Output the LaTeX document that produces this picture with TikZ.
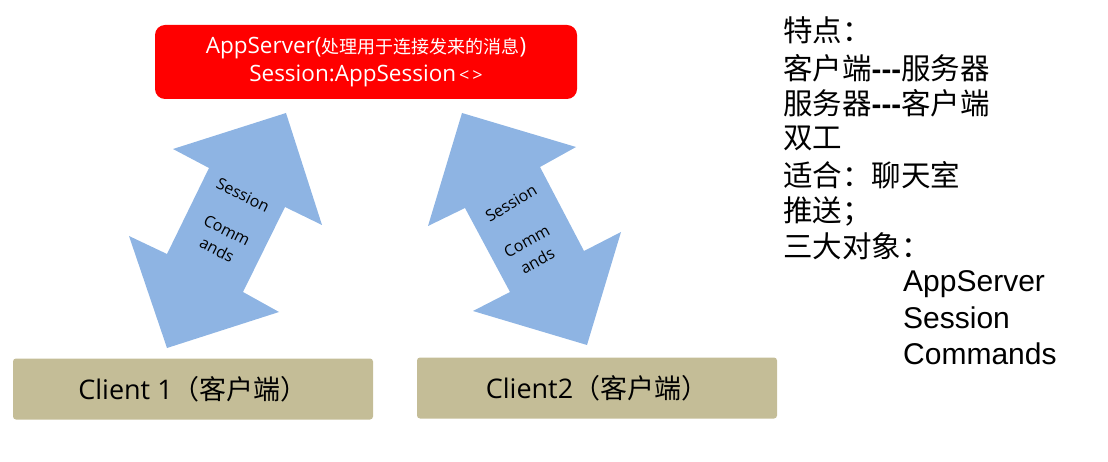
\documentclass[tikz,border=0pt]{standalone}
\usepackage{fontspec}
\setmainfont{Open Sans}
\newfontfamily\cjk{Noto Sans CJK SC}
\newfontfamily\arial{Liberation Sans}
\definecolor{appred}{HTML}{FF0000}
\definecolor{arrowblue}{HTML}{8EB4E3}
\definecolor{clienttan}{HTML}{C4BD97}

\begin{document}
\begin{tikzpicture}[
			x=1pt, y=-1pt,
			server/.style={rectangle, rounded corners=10pt, fill=appred, text=white, minimum width=422pt, minimum height=74pt, align=center, font=\fontsize{22.5}{28}\selectfont},
			client/.style={rectangle, rounded corners=3pt, fill=clienttan, minimum width=360pt, minimum height=61pt, font=\fontsize{27}{30}\selectfont},
			dblarrow/.style={fill=arrowblue},
			arrowtext/.style={align=center, inner sep=0pt, font=\fontsize{16}{22}\selectfont},
			note/.style={anchor=west, inner sep=0pt, font=\cjk\fontsize{29.5}{32}\selectfont},
			obj/.style={anchor=west, inner sep=0pt, font=\arial\fontsize{30}{32}\selectfont}
			]
			
			\useasboundingbox (0,0) rectangle (1108,462);
			
			% Server
			\node[server] (server) at (366,62) {AppServer({\cjk\fontsize{18}{18}\selectfont 处理用于连接发来的消息})\\Session:AppSession{\fontsize{18}{18}\selectfont\,<\,>}};
			
			% Clients
			\node[client] (client1) at (193,389) {Client 1{\cjk（客户端）}};
			\node[client] (client2) at (597,388) {Client2{\cjk（客户端）}};
			
			% Left double arrow
			\fill[dblarrow] (286,113) -- (322,225) -- (285,207) -- (243,292) -- (279,312) -- (167,348)
				-- (129,236) -- (167,254) -- (209,168) -- (173,149) -- cycle;
			\node[arrowtext, rotate=-26] (session1) at (243,195) {Session};
			\node[arrowtext, rotate=-27] (commands1) at (222,240) {Comm\\ands};
			
			% Right double arrow
			\fill[dblarrow] (462,113) -- (576,147) -- (540,167) -- (584,251) -- (621,232) -- (587,345)
				-- (473,311) -- (510,292) -- (465,208) -- (428,226) -- cycle;
			\node[arrowtext, rotate=31] (session2) at (511,203) {Session};
			\node[arrowtext, rotate=29] (commands2) at (532,251) {Comm\\ands};
			
			% Notes
			\node[note] (n1) at (783,30) {特点：};
			\node[note] (n2) at (783,68) {客户端{\arial\bfseries -{}-{}-}服务器};
			\node[note] (n3) at (783,103) {服务器{\arial\bfseries -{}-{}-}客户端};
			\node[note] (n4) at (783,138) {双工};
			\node[note] (n5) at (783,175) {适合：聊天室};
			\node[note] (n6) at (783,211) {推送；};
			\node[note] (n7) at (783,246) {三大对象：};
			\node[obj] (o1) at (903,284) {AppServer};
			\node[obj] (o2) at (903,318) {Session};
			\node[obj] (o3) at (903,354) {Commands};
			
		\end{tikzpicture}
\end{document}
